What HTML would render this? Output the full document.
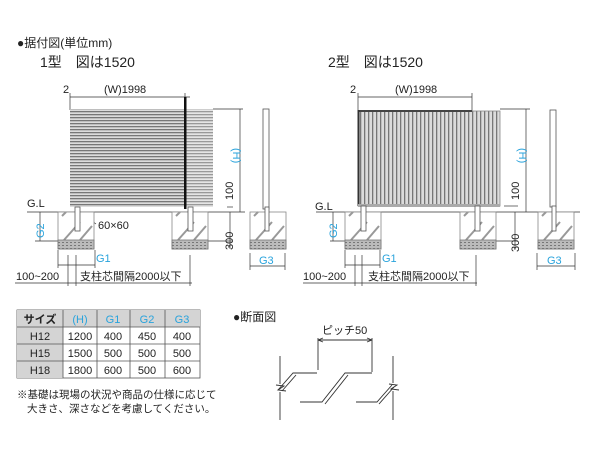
<!DOCTYPE html>
<html><head><meta charset="utf-8"><style>
html,body{margin:0;padding:0;background:#fff;width:600px;height:450px;overflow:hidden}
svg{display:block}
text{font-family:"Liberation Sans","Noto Sans CJK JP",sans-serif;fill:#222}
.b{fill:#29a3dc}
</style></head><body>
<svg width="600" height="450" viewBox="0 0 600 450" xmlns="http://www.w3.org/2000/svg">
<defs>
<pattern id="hs" width="4" height="3" patternUnits="userSpaceOnUse"><rect width="4" height="3" fill="#dcdcdc"/><rect y="0" width="4" height="1.3" fill="#777"/></pattern>
<pattern id="vs" width="4" height="4" patternUnits="userSpaceOnUse"><rect width="4" height="4" fill="#dcdcdc"/><rect x="0" width="1.3" height="4" fill="#777"/></pattern>
<pattern id="gr" width="4" height="3" patternUnits="userSpaceOnUse"><rect width="4" height="3" fill="#bbb"/><rect width="2" height="1" fill="#777"/></pattern>
<g id="fd">
<rect x="0" y="0" width="36" height="37" fill="#fff" stroke="#888" stroke-width="0.8"/>
<path d="M4 4 L8 0 M6 28 L22 10 M22 28 L34 14" stroke="#999" stroke-width="2" fill="none"/>
<rect x="0" y="28" width="36" height="9" fill="url(#gr)" stroke="#777" stroke-width="0.8"/>
</g>
</defs>
<text x="17" y="47" font-size="12">●据付図(単位mm)</text>
<text x="40" y="67" font-size="14">1型　図は1520</text>
<text x="328" y="67" font-size="14">2型　図は1520</text>

<!-- LEFT DRAWING -->
<g stroke="#333" stroke-width="0.7" fill="none">
<line x1="70" y1="97" x2="190" y2="97"/><line x1="70" y1="93" x2="70" y2="110"/><line x1="185" y1="93" x2="185" y2="100"/>
<line x1="240" y1="109" x2="240" y2="212"/><line x1="213" y1="109" x2="243" y2="109"/>
<line x1="227" y1="207" x2="233" y2="207"/>
<line x1="27" y1="212" x2="245" y2="212"/>
<line x1="35" y1="241" x2="60" y2="241"/><line x1="40" y1="212" x2="40" y2="241"/>
<line x1="230" y1="212" x2="230" y2="249"/><line x1="200" y1="241" x2="232" y2="241"/>
<line x1="58" y1="250" x2="58" y2="268"/><line x1="95" y1="250" x2="95" y2="268"/><line x1="58" y1="265" x2="95" y2="265"/>
<line x1="15" y1="283" x2="192" y2="283"/><line x1="68" y1="255" x2="68" y2="286"/><line x1="76" y1="255" x2="76" y2="286"/><line x1="190" y1="255" x2="190" y2="286"/>
<line x1="84" y1="215" x2="96" y2="224"/>
</g>
<rect x="70" y="109" width="143" height="98" fill="url(#hs)"/>
<rect x="185" y="109" width="28" height="98" fill="#fff" opacity="0.25"/>
<rect x="184" y="97" width="2.5" height="112" fill="#111"/>
<use href="#fd" x="58" y="212"/><use href="#fd" x="172" y="212"/>
<rect x="75" y="207" width="5" height="24" fill="#fff" stroke="#555" stroke-width="0.8"/>
<rect x="188" y="207" width="5" height="24" fill="#fff" stroke="#555" stroke-width="0.8"/>
<use href="#fd" x="250" y="212"/>
<rect x="263" y="109" width="6" height="100" fill="#fff" stroke="#555" stroke-width="0.8"/>
<rect x="265" y="207" width="4" height="24" fill="#fff" stroke="#555" stroke-width="0.8"/>
<line x1="250" y1="253" x2="250" y2="270" stroke="#333" stroke-width="0.7"/><line x1="285" y1="253" x2="285" y2="270" stroke="#333" stroke-width="0.7"/><line x1="250" y1="266" x2="285" y2="266" stroke="#333" stroke-width="0.7"/>
<text x="63" y="93" font-size="11">2</text>
<text x="104" y="93" font-size="11">(W)1998</text>
<text class="b" font-size="11" transform="translate(233,148) rotate(90)">(H)</text>
<text font-size="11" transform="translate(233,200) rotate(-90)">100</text>
<text font-size="11" transform="translate(233,250) rotate(-90)">300</text>
<text font-size="11" x="27" y="207">G.L</text>
<text class="b" font-size="11" transform="translate(44,238) rotate(-90)">G2</text>
<text font-size="11" x="98" y="229">60×60</text>
<text class="b" font-size="11" x="96" y="262">G1</text>
<text class="b" font-size="11" x="259" y="264">G3</text>
<text font-size="11" x="16" y="280">100~200</text>
<text font-size="11" x="80" y="280">支柱芯間隔2000以下</text>

<!-- RIGHT DRAWING -->
<g stroke="#333" stroke-width="0.7" fill="none">
<line x1="358" y1="97" x2="472" y2="97"/><line x1="358" y1="93" x2="358" y2="112"/><line x1="472" y1="93" x2="472" y2="112"/>
<line x1="526" y1="109" x2="526" y2="212"/><line x1="500" y1="109" x2="530" y2="109"/>
<line x1="504" y1="206" x2="518" y2="206"/>
<line x1="316" y1="212" x2="580" y2="212"/>
<line x1="330" y1="241" x2="348" y2="241"/><line x1="333" y1="212" x2="333" y2="241"/>
<line x1="515" y1="212" x2="515" y2="249"/><line x1="490" y1="241" x2="518" y2="241"/>
<line x1="345" y1="250" x2="345" y2="268"/><line x1="380" y1="250" x2="380" y2="268"/><line x1="345" y1="265" x2="380" y2="265"/>
<line x1="303" y1="283" x2="477" y2="283"/><line x1="355" y1="255" x2="355" y2="286"/><line x1="362" y1="255" x2="362" y2="286"/><line x1="476" y1="255" x2="476" y2="286"/>
<line x1="537" y1="253" x2="537" y2="270"/><line x1="575" y1="253" x2="575" y2="270"/><line x1="537" y1="266" x2="575" y2="266"/>
</g>
<rect x="358" y="111" width="142" height="95" fill="url(#vs)" stroke="#888" stroke-width="0.8"/>
<rect x="358" y="110" width="114" height="2" fill="#444"/>
<rect x="357.5" y="110" width="2" height="96" fill="#333"/>
<rect x="358" y="204" width="142" height="3" fill="#aaa"/>
<use href="#fd" x="345" y="212"/><use href="#fd" x="460" y="212"/>
<rect x="361" y="206" width="5" height="25" fill="#fff" stroke="#555" stroke-width="0.8"/>
<rect x="475" y="206" width="5" height="25" fill="#fff" stroke="#555" stroke-width="0.8"/>
<use href="#fd" x="538" y="212"/>
<rect x="550" y="110" width="6" height="97" fill="#fff" stroke="#555" stroke-width="0.8"/>
<rect x="552" y="206" width="4" height="25" fill="#fff" stroke="#555" stroke-width="0.8"/>
<text x="350" y="93" font-size="11">2</text>
<text x="395" y="93" font-size="11">(W)1998</text>
<text class="b" font-size="11" transform="translate(519,148) rotate(90)">(H)</text>
<text font-size="11" transform="translate(519,200) rotate(-90)">100</text>
<text font-size="11" transform="translate(519,252) rotate(-90)">300</text>
<text font-size="11" x="315" y="210">G.L</text>
<text class="b" font-size="11" transform="translate(337,238) rotate(-90)">G2</text>
<text class="b" font-size="11" x="382" y="262">G1</text>
<text class="b" font-size="11" x="547" y="264">G3</text>
<text font-size="11" x="303" y="280">100~200</text>
<text font-size="11" x="368" y="280">支柱芯間隔2000以下</text>

<!-- TABLE -->
<g>
<rect x="17" y="310" width="183" height="68" fill="#fff" stroke="#555" stroke-width="0.8"/>
<rect x="17" y="310" width="183" height="17" fill="#d4d4d4"/>
<rect x="17" y="310" width="46" height="68" fill="#d4d4d4"/>
<g stroke="#555" stroke-width="0.8">
<line x1="17" y1="327" x2="200" y2="327"/><line x1="17" y1="344" x2="200" y2="344"/><line x1="17" y1="361" x2="200" y2="361"/>
<line x1="63" y1="310" x2="63" y2="378"/><line x1="97" y1="310" x2="97" y2="378"/><line x1="130" y1="310" x2="130" y2="378"/><line x1="165" y1="310" x2="165" y2="378"/>
</g>
<g font-size="11" text-anchor="middle">
<text x="40" y="323" font-weight="bold" fill="#444">サイズ</text>
<text class="b" x="80" y="323">(H)</text><text class="b" x="113" y="323">G1</text><text class="b" x="147" y="323">G2</text><text class="b" x="182" y="323">G3</text>
<text x="40" y="340">H12</text><text x="80" y="340">1200</text><text x="113" y="340">400</text><text x="147" y="340">450</text><text x="182" y="340">400</text>
<text x="40" y="357">H15</text><text x="80" y="357">1500</text><text x="113" y="357">500</text><text x="147" y="357">500</text><text x="182" y="357">500</text>
<text x="40" y="374">H18</text><text x="80" y="374">1800</text><text x="113" y="374">600</text><text x="147" y="374">500</text><text x="182" y="374">600</text>
</g>
</g>
<text x="17" y="398" font-size="10.5" fill="#444">※基礎は現場の状況や商品の仕様に応じて</text>
<text x="27" y="412" font-size="10.5" fill="#444">大きさ、深さなどを考慮してください。</text>

<!-- SECTION -->
<text x="233" y="321" font-size="12">●断面図</text>
<text x="322" y="334" font-size="11">ピッチ50</text>
<g stroke="#333" stroke-width="0.9" fill="none">
<line x1="318" y1="338" x2="318" y2="370"/><line x1="372" y1="338" x2="372" y2="372"/>
<line x1="318" y1="340" x2="372" y2="340"/>
<path d="M318 340 l5 -2 M318 340 l5 2 M372 340 l-5 -2 M372 340 l-5 2"/>
<path d="M280 356 V384 M280 392 V420 M276 385 l8 1 l-6 4 l8 1"/>
<path d="M393 356 V383 M393 391 V420 M389 384 l8 1 l-6 4 l8 1"/>
<path d="M317 373 H293 L278 390 M296 375 L282 391"/>
<path d="M372 373 H345 L322 402 H300 M348 375 L325 404"/>
<path d="M356 402 H377 L392 385 M379 404 L394 387"/>
</g>
</svg>
</body></html>
